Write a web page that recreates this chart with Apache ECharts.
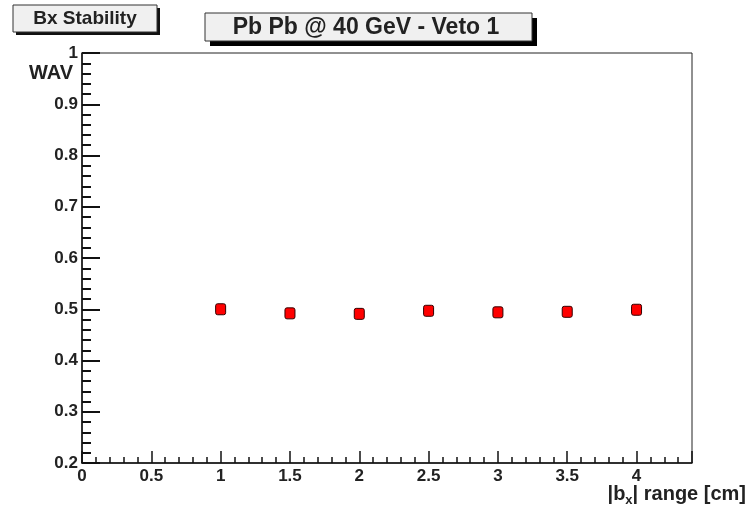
<!DOCTYPE html>
<html>
<head>
<meta charset="utf-8">
<script src="https://cdn.jsdelivr.net/npm/echarts@6/dist/echarts.min.js"></script>
<style>html,body{margin:0;padding:0;background:#fff;}#c{width:755px;height:510px;}</style>
</head>
<body>
<div id="c"></div>
<script>
var bxRange = [1, 1.5, 2, 2.5, 3, 3.5, 4];
var wav = [0.500, 0.492, 0.491, 0.497, 0.494, 0.495, 0.499];
var wavErr = [0.007, 0.007, 0.006, 0.006, 0.006, 0.007, 0.008];
var yTicks = [0.2, 0.3, 0.4, 0.5, 0.6, 0.7, 0.8, 0.9, 1];
var xTicks = [0, 0.5, 1, 1.5, 2, 2.5, 3, 3.5, 4];
var titleText = 'Pb Pb @ 40 GeV - Veto 1';
var statText = 'Bx Stability';

var FONT = '"Liberation Sans", Arial, sans-serif';
var chart = echarts.init(document.getElementById('c'), null, {renderer: 'canvas'});

var pts = bxRange.map(function (x, i) { return [x, wav[i], wavErr[i]]; });

chart.setOption({
  animation: false,
  backgroundColor: '#fff',
  grid: {left: 82, top: 53, right: 63, bottom: 47, show: true, borderColor: '#222', borderWidth: 1, backgroundColor: '#fff'},
  xAxis: {
    type: 'value', min: 0, max: 4.4, interval: 0.5,
    axisLine: {lineStyle: {color: '#111', width: 1.5}},
    axisTick: {inside: true, length: 12, lineStyle: {color: '#111', width: 1.5}},
    minorTick: {show: true, splitNumber: 5, length: 6, lineStyle: {color: '#111', width: 1.5}},
    splitLine: {show: false},
    axisLabel: {
      margin: 5, color: '#222', fontFamily: FONT, fontWeight: 'bold', fontSize: 17,
      formatter: function (v) { return xTicks.indexOf(v) >= 0 ? String(v) : ''; },
      showMaxLabel: false
    }
  },
  yAxis: {
    type: 'value', min: 0.2, max: 1, interval: 0.1,
    axisLine: {lineStyle: {color: '#111', width: 1.5}},
    axisTick: {inside: true, length: 18, lineStyle: {color: '#111', width: 2}},
    minorTick: {show: true, splitNumber: 5, length: 9, lineStyle: {color: '#111', width: 2}},
    splitLine: {show: false},
    axisLabel: {
      margin: 4, color: '#222', fontFamily: FONT, fontWeight: 'bold', fontSize: 17,
      formatter: function (v) {
        var r = Math.round(v * 10) / 10;
        return yTicks.indexOf(r) >= 0 ? String(r) : '';
      }
    }
  },
  series: [{
    type: 'custom',
    data: pts,
    clip: false,
    renderItem: function (params, api) {
      var x = api.value(0), y = api.value(1), e = api.value(2);
      var c = api.coord([x, y]);
      var top = api.coord([x, y + e]);
      var bot = api.coord([x, y - e]);
      return {
        type: 'group',
        children: [
          {type: 'line', shape: {x1: c[0], y1: top[1], x2: c[0], y2: bot[1]}, style: {stroke: '#000', lineWidth: 2}},
          {type: 'rect', shape: {x: c[0] - 5, y: c[1] - 5.5, width: 10, height: 11, r: 2}, style: {fill: '#f00', stroke: '#300', lineWidth: 1}}
        ]
      };
    }
  }],
  graphic: [
    {type: 'rect', shape: {x: 16, y: 8, width: 144, height: 27}, style: {fill: '#111'}},
    {type: 'rect', shape: {x: 13, y: 5, width: 144, height: 27}, style: {fill: '#f0f0f0', stroke: '#333', lineWidth: 1}},
    {type: 'text', x: 85, y: 18.5, style: {text: statText, fill: '#222', font: 'bold 19px ' + FONT, textAlign: 'center', textVerticalAlign: 'middle'}},
    {type: 'rect', shape: {x: 210, y: 18, width: 327, height: 28}, style: {fill: '#000'}},
    {type: 'rect', shape: {x: 205, y: 13, width: 327, height: 28}, style: {fill: '#f0f0f0', stroke: '#333', lineWidth: 1}},
    {type: 'text', x: 366, y: 28, style: {text: titleText, fill: '#222', font: 'bold 23px ' + FONT, textAlign: 'center', textVerticalAlign: 'middle'}},
    {type: 'text', x: 73, y: 73, style: {text: 'WAV', fill: '#222', font: 'bold 20px ' + FONT, textAlign: 'right', textVerticalAlign: 'middle'}},
    {type: 'text', x: 746, y: 494, style: {
      text: '|b{s|x}| range [cm]', fill: '#222', font: 'bold 20px ' + FONT, textAlign: 'right', textVerticalAlign: 'middle',
      rich: {s: {fontFamily: FONT, fontWeight: 'bold', fontSize: 13, padding: [12, 0, 0, 0], fill: '#222'}}
    }}
  ]
});
</script>
</body>
</html>
